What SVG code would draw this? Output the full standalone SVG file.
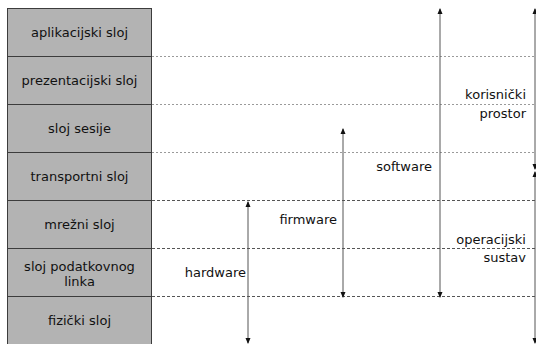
<svg xmlns="http://www.w3.org/2000/svg" width="536" height="344" viewBox="0 0 536 344">
<style>
.layer{fill:#b3b3b3;stroke:#3c3c3c;stroke-width:1}
.t{font-family:"DejaVu Sans",Verdana,sans-serif;font-size:13px;fill:#111}
.c{text-anchor:middle}
.e{text-anchor:end}
.g1{stroke:#9a9a9a;stroke-width:1;stroke-dasharray:2,2;fill:none}
.g2{stroke:#555;stroke-width:1;stroke-dasharray:3,2;fill:none}
.ar{stroke:#555;stroke-width:1;fill:none;marker-start:url(#ah);marker-end:url(#ah)}
</style>
<defs>
<marker id="ah" viewBox="0 0 6 6" refX="5" refY="3" markerWidth="6" markerHeight="6" orient="auto-start-reverse" markerUnits="userSpaceOnUse">
<path d="M0,0.5 L6,3 L0,5.5 Z" fill="#111"/>
</marker>
</defs>
<g id="guides">
<line class="g1" x1="152" y1="56.5" x2="536" y2="56.5"/>
<line class="g1" x1="152" y1="104.5" x2="536" y2="104.5"/>
<line class="g1" x1="152" y1="152.5" x2="536" y2="152.5"/>
<line class="g2" x1="152" y1="200.5" x2="536" y2="200.5"/>
<line class="g2" x1="152" y1="248.5" x2="536" y2="248.5"/>
<line class="g2" x1="152" y1="296.5" x2="536" y2="296.5"/>
</g>
<g id="layer7"><rect class="layer" x="7.5" y="8.5" width="144" height="48"/><text class="t c" x="79.5" y="37">aplikacijski sloj</text></g>
<g id="layer6"><rect class="layer" x="7.5" y="56.5" width="144" height="48"/><text class="t c" x="79.5" y="85">prezentacijski sloj</text></g>
<g id="layer5"><rect class="layer" x="7.5" y="104.5" width="144" height="48"/><text class="t c" x="79.5" y="133">sloj sesije</text></g>
<g id="layer4"><rect class="layer" x="7.5" y="152.5" width="144" height="48"/><text class="t c" x="79.5" y="181">transportni sloj</text></g>
<g id="layer3"><rect class="layer" x="7.5" y="200.5" width="144" height="48"/><text class="t c" x="79.5" y="229">mrežni sloj</text></g>
<g id="layer2"><rect class="layer" x="7.5" y="248.5" width="144" height="48"/><text class="t c" x="79.5" y="271">sloj podatkovnog</text><text class="t c" x="79.5" y="286">linka</text></g>
<g id="layer1"><rect class="layer" x="7.5" y="296.5" width="144" height="50"/><text class="t c" x="79.5" y="325">fizički sloj</text></g>
<g id="connectors">
<line class="ar" x1="248" y1="202" x2="248" y2="343"/>
<line class="ar" x1="343" y1="129" x2="343" y2="297"/>
<line class="ar" x1="440" y1="9" x2="440" y2="297"/>
<line class="ar" x1="535" y1="9" x2="535" y2="169"/>
<line class="ar" x1="535" y1="172" x2="535" y2="343"/>
</g>
<g id="labels">
<text class="t e" x="246" y="276.5">hardware</text>
<text class="t e" x="337" y="223.5">firmware</text>
<text class="t e" x="432" y="170.5">software</text>
<text class="t e" x="526" y="99">korisnički</text>
<text class="t e" x="526" y="117.5">prostor</text>
<text class="t e" x="526" y="243.5">operacijski</text>
<text class="t e" x="526" y="262">sustav</text>
</g>
</svg>
